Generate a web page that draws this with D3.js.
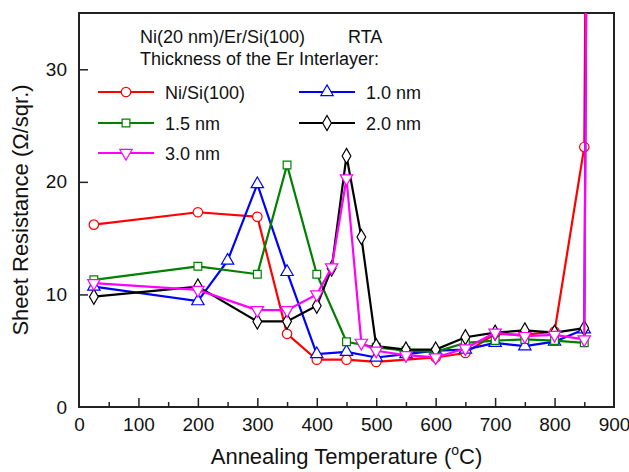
<!DOCTYPE html>
<html>
<head>
<meta charset="utf-8">
<script src="https://cdn.jsdelivr.net/npm/d3@7"></script>
<style>
  body { margin: 0; background: #fff; }
  text { font-family: "Liberation Sans", Arial, sans-serif; fill: #111; }
</style>
</head>
<body>
<svg id="chart"></svg>
<script>
const width = 629;
const height = 472;

// data (x in °C, y in Ω/sqr.)
const niSiX = [25, 200, 300, 350, 400, 450, 500, 600, 650, 700, 750, 800, 850, 860];
const niSiY = [16.2, 17.3, 16.9, 6.5, 4.2, 4.2, 4.0, 4.4, 4.8, 6.5, 6.4, 6.7, 23.1, 100];

const er10X = [25, 200, 250, 300, 350, 400, 450, 500, 550, 600, 650, 700, 750, 800, 850, 860];
const er10Y = [10.7, 9.4, 13.0, 19.8, 12.0, 4.7, 4.9, 4.4, 4.7, 5.0, 5.1, 5.7, 5.4, 5.8, 6.9, 100];

const er15X = [25, 200, 300, 350, 400, 450, 500, 550, 600, 650, 700, 750, 800, 850];
const er15Y = [11.3, 12.5, 11.8, 21.5, 11.8, 5.8, 5.3, 5.0, 4.9, 5.7, 5.9, 6.0, 5.9, 5.7];

const er20X = [25, 200, 300, 350, 400, 425, 450, 475, 500, 550, 600, 650, 700, 750, 800, 850];
const er20Y = [9.8, 10.7, 7.6, 7.6, 9.0, 12.3, 22.3, 15.1, 5.4, 5.1, 5.1, 6.2, 6.6, 6.8, 6.6, 7.0];

const er30X = [25, 200, 300, 350, 400, 425, 450, 475, 500, 550, 600, 650, 700, 750, 800, 850, 860];
const er30Y = [11.0, 10.4, 8.6, 8.6, 10.0, 12.4, 20.3, 5.7, 5.0, 4.6, 4.4, 5.2, 6.6, 6.3, 6.4, 6.0, 100];

const xTicks = [0, 100, 200, 300, 400, 500, 600, 700, 800, 900];
const yTicks = [0, 10, 20, 30];

const series = [
    { name: 'Ni/Si(100)', color: '#ff0000', symbol: 'circle', xs: niSiX, ys: niSiY },
    { name: '1.0 nm', color: '#0000ff', symbol: 'triangle', xs: er10X, ys: er10Y },
    { name: '1.5 nm', color: '#008000', symbol: 'square', xs: er15X, ys: er15Y },
    { name: '2.0 nm', color: '#000000', symbol: 'diamond', xs: er20X, ys: er20Y },
    { name: '3.0 nm', color: '#ff00ff', symbol: 'down', xs: er30X, ys: er30Y }
];

const margin = { top: 13, right: 15, bottom: 65, left: 79 };
const x = d3.scaleLinear().domain([0, 900]).range([margin.left, width - margin.right]);
const y = d3.scaleLinear().domain([0, 35]).range([height - margin.bottom, margin.top]);

const svg = d3.select('#chart').attr('width', width).attr('height', height);

svg.append('clipPath').attr('id', 'clip')
    .append('rect')
    .attr('x', x(0)).attr('y', y(35))
    .attr('width', x(900) - x(0)).attr('height', y(0) - y(35));

// inward ticks
const xAxis = d3.axisBottom(x).tickValues(d3.range(0, 901, 50))
    .tickSize(-9).tickPadding(11)
    .tickFormat(d => xTicks.includes(d) ? d : '');
const gx = svg.append('g').attr('transform', `translate(0,${y(0)})`).call(xAxis);
gx.selectAll('.tick line').attr('y2', d => d % 100 === 0 ? -9 : -5);

const yAxis = d3.axisLeft(y).tickValues(yTicks).tickSize(-9).tickPadding(12);
const gy = svg.append('g').attr('transform', `translate(${x(0)},0)`).call(yAxis);

[gx, gy].forEach(g => {
    g.select('.domain').remove();
    g.selectAll('.tick line').attr('stroke', '#222').attr('stroke-width', 1.5);
    g.selectAll('.tick text').style('font-size', '19px').attr('fill', '#111');
});
gx.selectAll('.tick line').filter(d => d === 0 || d === 900).remove();
gy.selectAll('.tick line').filter(d => d === 0).remove();

svg.append('rect')
    .attr('x', x(0)).attr('y', y(35))
    .attr('width', x(900) - x(0)).attr('height', y(0) - y(35))
    .attr('fill', 'none').attr('stroke', '#222').attr('stroke-width', 2);

const symbols = {
    circle: d3.symbol(d3.symbolCircle, 70),
    square: d3.symbol(d3.symbolSquare, 60),
    triangle: d3.symbol(d3.symbolTriangle, 66),
    diamond: d3.symbol(d3.symbolDiamond, 66),
    down: d3.symbol(d3.symbolTriangle, 66)
};
const symbolAt = (s, cx, cy) =>
    `translate(${cx},${cy})` + (s === 'down' ? ' rotate(180)' : '');

const line = d3.line().x(d => x(d[0])).y(d => y(d[1]));
const plot = svg.append('g').attr('clip-path', 'url(#clip)');

series.forEach(s => {
    const pts = s.xs.map((v, i) => [v, s.ys[i]]);
    plot.append('path')
        .datum(pts)
        .attr('d', line)
        .attr('fill', 'none')
        .attr('stroke', s.color)
        .attr('stroke-width', 2.2);
    plot.selectAll(null)
        .data(pts.filter(p => p[1] <= 35))
        .enter().append('path')
        .attr('d', symbols[s.symbol])
        .attr('transform', p => symbolAt(s.symbol, x(p[0]), y(p[1])))
        .attr('fill', '#fff')
        .attr('stroke', s.color)
        .attr('stroke-width', 1.2);
});

// legend
svg.append('text').attr('x', 140).attr('y', 43).style('font-size', '18px').text('Ni(20 nm)/Er/Si(100)');
svg.append('text').attr('x', 348).attr('y', 43).style('font-size', '18px').text('RTA');
svg.append('text').attr('x', 140).attr('y', 65).style('font-size', '18px').text('Thickness of the Er Interlayer:');

const legendPos = [[98, 92], [299, 92], [98, 123], [299, 123], [98, 153]];
series.forEach((s, i) => {
    const [lx, ly] = legendPos[i];
    const g = svg.append('g');
    g.append('line')
        .attr('x1', lx).attr('x2', lx + 56)
        .attr('y1', ly).attr('y2', ly)
        .attr('stroke', s.color).attr('stroke-width', 2.2);
    g.append('path')
        .attr('d', symbols[s.symbol])
        .attr('transform', symbolAt(s.symbol, lx + 28, ly))
        .attr('fill', '#fff')
        .attr('stroke', s.color)
        .attr('stroke-width', 1.2);
    g.append('text')
        .attr('x', lx + 67).attr('y', ly + 7)
        .style('font-size', '18px')
        .text(s.name);
});

// axis titles
const xt = svg.append('text')
    .attr('x', (x(0) + x(900)) / 2).attr('y', 464)
    .attr('text-anchor', 'middle')
    .style('font-size', '22px');
xt.append('tspan').text('Annealing Temperature (');
xt.append('tspan').attr('dy', -9).style('font-size', '14px').text('o');
xt.append('tspan').attr('dy', 9).text('C)');

svg.append('text')
    .attr('transform', `translate(28,${(y(0) + y(35)) / 2}) rotate(-90)`)
    .attr('text-anchor', 'middle')
    .style('font-size', '22px')
    .text('Sheet Resistance (Ω/sqr.)');
</script>
</body>
</html>
